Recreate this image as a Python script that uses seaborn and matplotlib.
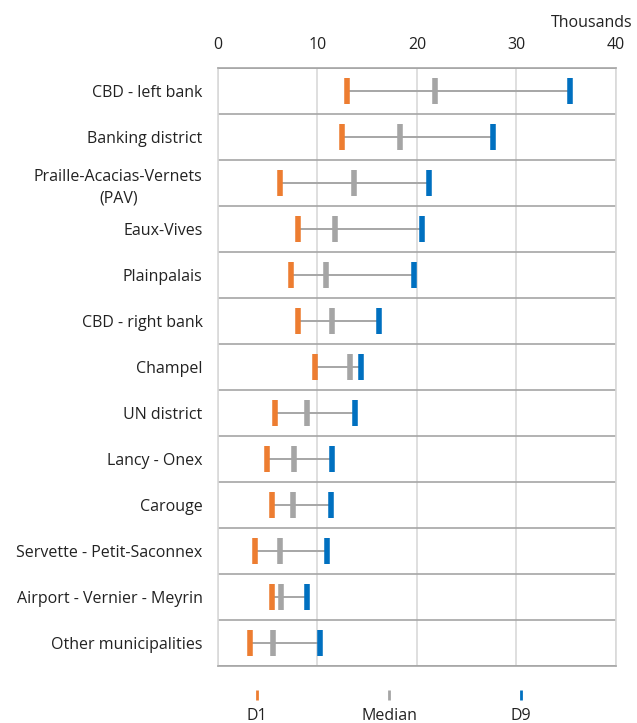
import matplotlib
matplotlib.use("Agg")
import matplotlib.pyplot as plt
import numpy as np
import pandas as pd
import seaborn as sns
from matplotlib.lines import Line2D

# Data (thousands)
areas = ["CBD - left bank", "Banking district", "Praille-Acacias-Vernets\n(PAV)",
         "Eaux-Vives", "Plainpalais", "CBD - right bank", "Champel", "UN district",
         "Lancy - Onex", "Carouge", "Servette - Petit-Saconnex",
         "Airport - Vernier - Meyrin", "Other municipalities"]
d1 = [13.0, 12.5, 6.2, 8.1, 7.3, 8.1, 9.8, 5.7, 4.9, 5.4, 3.7, 5.4, 3.2]
median = [21.8, 18.3, 13.7, 11.8, 10.9, 11.5, 13.3, 9.0, 7.7, 7.5, 6.2, 6.3, 5.5]
d9 = [35.4, 27.6, 21.2, 20.5, 19.7, 16.2, 14.4, 13.8, 11.5, 11.4, 11.0, 9.0, 10.3]

stats = ["D1", "Median", "D9"]
colors = {"D1": "#ED7D31", "Median": "#A5A5A5", "D9": "#0070C0"}

df = pd.DataFrame({"area": areas, "D1": d1, "Median": median, "D9": d9})
df["pos"] = np.arange(len(areas))
long = df.melt(id_vars=["area", "pos"], value_vars=stats, var_name="stat", value_name="value")

sns.set_style("white")
plt.rcParams["font.family"] = ["Open Sans", "DejaVu Sans"]
fs = 11.5

fig, ax = plt.subplots(figsize=(6.37, 7.23), dpi=100)
fig.subplots_adjust(left=0.342, right=0.967, top=0.906, bottom=0.079)

# range line D1 -> D9
ax.hlines(df["pos"], df["D1"], df["D9"], color="#A6A6A6", lw=1.4, zorder=2)

for s in stats:
    sub = long[long["stat"] == s]
    sns.scatterplot(data=sub, x="value", y="pos", marker="|", s=330,
                    color=colors[s], linewidth=4, ax=ax, zorder=3, legend=False)

ax.set_xlim(0, 40)
ax.set_ylim(len(areas) - 0.5, -0.5)
ax.set_xticks([0, 10, 20, 30, 40])
ax.xaxis.tick_top()
ax.set_yticks(df["pos"])
ax.set_yticklabels(areas, ha="right", multialignment="center", linespacing=1.45)
ax.set_yticks(np.arange(-0.5, len(areas)), minor=True)
ax.tick_params(axis="both", which="both", length=0, labelsize=fs, colors="#222222")
ax.tick_params(axis="y", pad=11)
ax.tick_params(axis="x", pad=11)
ax.set_xlabel("")
ax.set_ylabel("")

ax.grid(True, which="major", axis="x", color="#D9D9D9", lw=1.2)
ax.grid(True, which="minor", axis="y", color="#A6A6A6", lw=1.2)
ax.grid(False, which="major", axis="y")
ax.set_axisbelow(True)
for side in ["left", "right"]:
    ax.spines[side].set_color("#D9D9D9")
    ax.spines[side].set_linewidth(1.2)
for side in ["top", "bottom"]:
    ax.spines[side].set_color("#A6A6A6")
    ax.spines[side].set_linewidth(1.2)

fig.text(0.993, 0.968, "Thousands", ha="right", va="center", fontsize=fs, color="#222222")

# legend: key above label
for s, xf in zip(stats, [257 / 637, 389 / 637, 521 / 637]):
    fig.add_artist(Line2D([xf], [1 - 695 / 723], marker="|", markersize=7,
                          markeredgewidth=2, color=colors[s], transform=fig.transFigure))
    fig.text(xf, 1 - 716 / 723, s, ha="center", va="center", fontsize=fs, color="#222222")

fig.savefig("out.png", dpi=100)
